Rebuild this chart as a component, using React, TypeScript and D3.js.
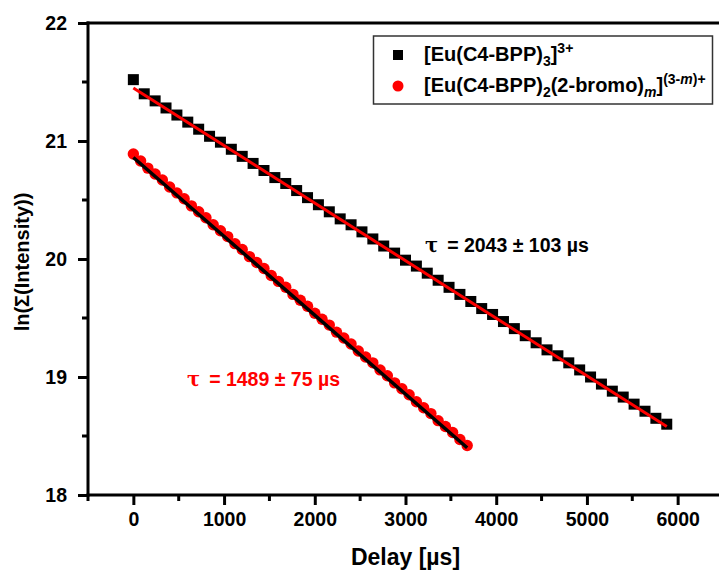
import { useEffect, useRef } from "react";
import * as d3 from "d3";

// [Eu(C4-BPP)3]3+ : black squares
const delayA = [
  0, 120, 240, 360, 480, 600, 720, 840, 960, 1080, 1200, 1320, 1440, 1560, 1680, 1800, 1920,
  2040, 2160, 2280, 2400, 2520, 2640, 2760, 2880, 3000, 3120, 3240, 3360, 3480, 3600, 3720,
  3840, 3960, 4080, 4200, 4320, 4440, 4560, 4680, 4800, 4920, 5040, 5160, 5280, 5400, 5520,
  5640, 5760, 5880,
];
const lnA = [
  21.52, 21.4, 21.34, 21.28, 21.22, 21.16, 21.1, 21.04, 20.99, 20.93, 20.87, 20.81, 20.75,
  20.69, 20.64, 20.58, 20.52, 20.46, 20.4, 20.34, 20.29, 20.23, 20.17, 20.11, 20.05, 19.99,
  19.94, 19.88, 19.82, 19.76, 19.7, 19.64, 19.58, 19.53, 19.47, 19.41, 19.35, 19.29, 19.23,
  19.18, 19.12, 19.06, 19.0, 18.94, 18.88, 18.83, 18.77, 18.71, 18.65, 18.6,
];

// [Eu(C4-BPP)2(2-bromo)m](3-m)+ : red circles
const delayB = [
  0, 80, 160, 240, 320, 400, 480, 560, 640, 720, 800, 880, 960, 1040, 1120, 1200, 1280, 1360,
  1440, 1520, 1600, 1680, 1760, 1840, 1920, 2000, 2080, 2160, 2240, 2320, 2400, 2480, 2560,
  2640, 2720, 2800, 2880, 2960, 3040, 3120, 3200, 3280, 3360, 3440, 3520, 3600, 3680,
];
const lnB = [
  20.89, 20.83, 20.77, 20.72, 20.67, 20.61, 20.56, 20.51, 20.45, 20.4, 20.35, 20.29, 20.24,
  20.19, 20.13, 20.08, 20.02, 19.97, 19.92, 19.86, 19.81, 19.76, 19.7, 19.65, 19.6, 19.54,
  19.49, 19.44, 19.38, 19.33, 19.28, 19.22, 19.17, 19.12, 19.06, 19.01, 18.95, 18.9, 18.85,
  18.79, 18.74, 18.69, 18.63, 18.58, 18.53, 18.47, 18.42,
];

// linear fits (end points)
const fitAx = [0, 5880];
const fitAy = [21.45, 18.58];
const fitBx = [0, 3680];
const fitBy = [20.86, 18.4];

const xTicks = [0, 1000, 2000, 3000, 4000, 5000, 6000];
const xMinor = [-500, 500, 1500, 2500, 3500, 4500, 5500, 6500];
const yTicks = [18, 19, 20, 21, 22];
const yMinor = [18.5, 19.5, 20.5, 21.5];

const FONT = "Liberation Sans, Arial, sans-serif";

function App() {
  const svgRef = useRef<SVGSVGElement>(null);

  useEffect(() => {
    const width = 719;
    const height = 574;
    const margin = { top: 23, right: -4, bottom: 79, left: 88 };

    const svg = d3.select(svgRef.current);
    svg.selectAll("*").remove();
    svg.attr("width", width).attr("height", height);

    const x = d3.scaleLinear().domain([-500, 6500]).range([margin.left, width - margin.right]);
    const y = d3.scaleLinear().domain([18, 22]).range([height - margin.bottom, margin.top]);

    const x0 = x(-500);
    const x1 = x(6500);
    const yb = y(18);
    const yt = y(22);

    // frame
    svg.append("g")
      .attr("stroke", "#000")
      .attr("stroke-width", 3)
      .selectAll("line")
      .data([
        [x0, yb, x1, yb],
        [x0, yt, x1, yt],
        [x0, yb, x0, yt],
        [x1, yb, x1, yt],
      ])
      .enter()
      .append("line")
      .attr("x1", d => d[0])
      .attr("y1", d => d[1])
      .attr("x2", d => d[2])
      .attr("y2", d => d[3])
      .attr("stroke-linecap", "square");

    // X axis
    const gx = svg.append("g")
      .attr("transform", `translate(0, ${yb})`)
      .call(
        d3.axisBottom(x)
          .tickValues(xTicks)
          .tickFormat(d3.format("d"))
          .tickSize(10)
          .tickSizeOuter(0)
          .tickPadding(7)
      );
    gx.select(".domain").remove();
    gx.selectAll(".tick line").attr("stroke", "#000").attr("stroke-width", 3);
    gx.selectAll("text")
      .attr("fill", "#000")
      .attr("font-family", FONT)
      .attr("font-weight", "bold")
      .attr("font-size", "19.5px");

    svg.append("g")
      .selectAll("line")
      .data(xMinor)
      .enter()
      .append("line")
      .attr("x1", d => x(d))
      .attr("x2", d => x(d))
      .attr("y1", yb)
      .attr("y2", yb + 6)
      .attr("stroke", "#000")
      .attr("stroke-width", 3);

    // Y axis
    const gy = svg.append("g")
      .attr("transform", `translate(${x0}, 0)`)
      .call(
        d3.axisLeft(y)
          .tickValues(yTicks)
          .tickFormat(d3.format("d"))
          .tickSize(10)
          .tickSizeOuter(0)
          .tickPadding(11)
      );
    gy.select(".domain").remove();
    gy.selectAll(".tick line").attr("stroke", "#000").attr("stroke-width", 3);
    gy.selectAll("text")
      .attr("fill", "#000")
      .attr("font-family", FONT)
      .attr("font-weight", "bold")
      .attr("font-size", "19.5px");

    svg.append("g")
      .selectAll("line")
      .data(yMinor)
      .enter()
      .append("line")
      .attr("x1", x0 - 6)
      .attr("x2", x0)
      .attr("y1", d => y(d))
      .attr("y2", d => y(d))
      .attr("stroke", "#000")
      .attr("stroke-width", 3);

    // Axis titles
    svg.append("text")
      .attr("x", (x0 + x1) / 2)
      .attr("y", 565)
      .attr("text-anchor", "middle")
      .attr("font-family", FONT)
      .attr("font-weight", "bold")
      .attr("font-size", "23px")
      .text("Delay [µs]");

    svg.append("text")
      .attr("transform", "rotate(-90)")
      .attr("x", -262)
      .attr("y", 29)
      .attr("text-anchor", "middle")
      .attr("font-family", FONT)
      .attr("font-weight", "bold")
      .attr("font-size", "20px")
      .text("ln(Σ(Intensity))");

    // Data
    const ptsA = delayA.map((d, i) => ({ t: d, v: lnA[i] }));
    const ptsB = delayB.map((d, i) => ({ t: d, v: lnB[i] }));
    const sq = 11;

    svg.append("g")
      .selectAll("rect")
      .data(ptsA)
      .enter()
      .append("rect")
      .attr("x", d => x(d.t) - sq / 2)
      .attr("y", d => y(d.v) - sq / 2)
      .attr("width", sq)
      .attr("height", sq)
      .attr("fill", "#000");

    svg.append("g")
      .selectAll("circle")
      .data(ptsB)
      .enter()
      .append("circle")
      .attr("cx", d => x(d.t))
      .attr("cy", d => y(d.v))
      .attr("r", 5.7)
      .attr("fill", "#ff0000");

    const line = d3.line<number[]>()
      .x(d => d[0])
      .y(d => d[1]);

    const fitA = fitAx.map((d, i) => [x(d), y(fitAy[i])]);
    const fitB = fitBx.map((d, i) => [x(d), y(fitBy[i])]);

    svg.append("path")
      .attr("d", line(fitA))
      .attr("fill", "none")
      .attr("stroke", "#ff0000")
      .attr("stroke-width", 3);

    svg.append("path")
      .attr("d", line(fitB))
      .attr("fill", "none")
      .attr("stroke", "#000")
      .attr("stroke-width", 3.5);

    // Annotations
    const annA = svg.append("text")
      .attr("x", 425)
      .attr("y", 252)
      .attr("font-family", FONT)
      .attr("font-weight", "bold")
      .attr("font-size", "19.5px")
      .attr("fill", "#000");
    annA.append("tspan").attr("font-family", "DejaVu Serif, serif").text("τ");
    annA.append("tspan").attr("dx", 9).text("= 2043 ± 103 µs");

    const annB = svg.append("text")
      .attr("x", 187)
      .attr("y", 386)
      .attr("font-family", FONT)
      .attr("font-weight", "bold")
      .attr("font-size", "19.5px")
      .attr("fill", "#ff0000");
    annB.append("tspan").attr("font-family", "DejaVu Serif, serif").text("τ");
    annB.append("tspan").attr("dx", 9).text("= 1489 ± 75 µs");

    // Legend
    const legend = svg.append("g");
    legend.append("rect")
      .attr("x", 373.5)
      .attr("y", 36)
      .attr("width", 339)
      .attr("height", 68)
      .attr("fill", "#fff")
      .attr("stroke", "#333")
      .attr("stroke-width", 1.5);

    legend.append("rect")
      .attr("x", 398 - 5)
      .attr("y", 55 - 5)
      .attr("width", 10)
      .attr("height", 10)
      .attr("fill", "#000");
    legend.append("circle")
      .attr("cx", 398)
      .attr("cy", 86)
      .attr("r", 5.5)
      .attr("fill", "#ff0000");

    const l1 = legend.append("text")
      .attr("x", 424)
      .attr("y", 61)
      .attr("font-family", FONT)
      .attr("font-weight", "bold")
      .attr("font-size", "20px")
      .attr("fill", "#000");
    l1.append("tspan").text("[Eu(C4-BPP)");
    l1.append("tspan").attr("font-size", "14px").attr("dy", 5).text("3");
    l1.append("tspan").attr("dy", -5).text("]");
    l1.append("tspan").attr("font-size", "14px").attr("dy", -8).text("3+");

    const l2 = legend.append("text")
      .attr("x", 424)
      .attr("y", 92)
      .attr("font-family", FONT)
      .attr("font-weight", "bold")
      .attr("font-size", "20px")
      .attr("fill", "#000");
    l2.append("tspan").text("[Eu(C4-BPP)");
    l2.append("tspan").attr("font-size", "14px").attr("dy", 5).text("2");
    l2.append("tspan").attr("dy", -5).text("(2-bromo)");
    l2.append("tspan").attr("font-size", "14px").attr("dy", 5).attr("font-style", "italic").text("m");
    l2.append("tspan").attr("dy", -5).text("]");
    l2.append("tspan").attr("font-size", "14px").attr("dy", -8).text("(3-");
    l2.append("tspan").attr("font-size", "14px").attr("font-style", "italic").text("m");
    l2.append("tspan").attr("font-size", "14px").text(")+");
  }, []);

  return (
    <svg
      ref={svgRef}
      style={{ position: "absolute", left: 0, top: 0, display: "block", background: "#fff" }}
    ></svg>
  );
}

export default App;
